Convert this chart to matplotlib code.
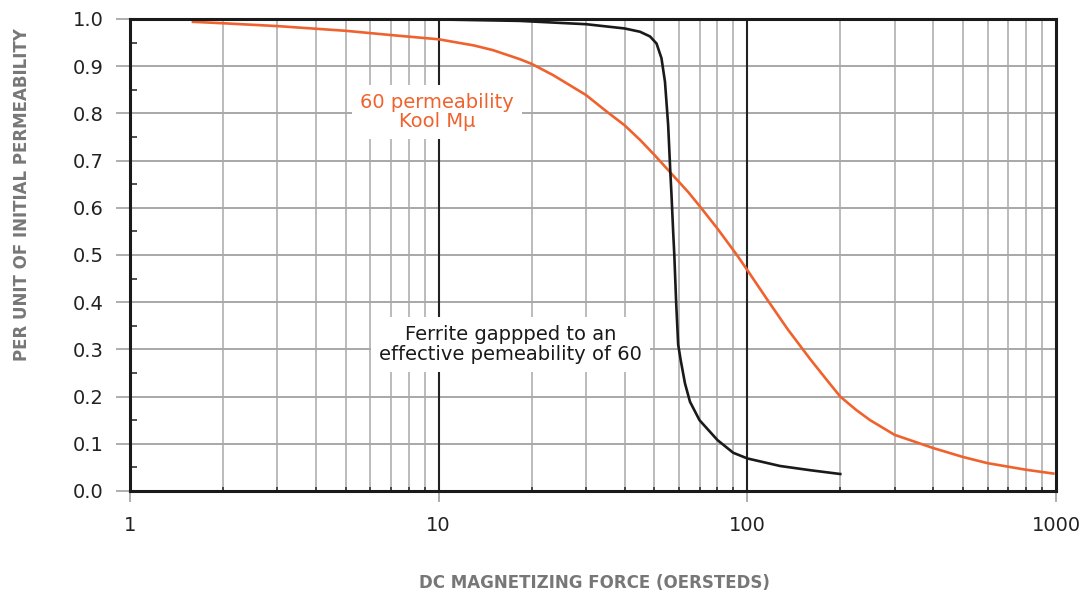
import numpy as np
import matplotlib
matplotlib.use("Agg")
import matplotlib.pyplot as plt
from matplotlib.ticker import FixedLocator, NullFormatter

# data
kool_h = [1.6, 2, 3, 5, 7, 10, 13, 15, 18.3, 20, 23.5, 30, 35, 40, 44.9, 50,
          56.1, 64.4, 70, 80, 92.5, 100, 117, 135, 160, 180, 200, 225, 250,
          300, 400, 500, 600, 800, 980]
kool_mu = [0.994, 0.991, 0.985, 0.975, 0.966, 0.957, 0.944, 0.934, 0.915, 0.905,
           0.881, 0.839, 0.804, 0.775, 0.744, 0.712, 0.676, 0.633, 0.604, 0.556,
           0.50, 0.468, 0.402, 0.343, 0.279, 0.237, 0.20, 0.172, 0.15, 0.119,
           0.091, 0.072, 0.059, 0.045, 0.037]

ferrite_h = [7.0, 10, 18.3, 30, 40, 44.9, 48.4, 50.8, 52.7, 54.1, 55.4, 56.3,
             56.8, 57.5, 58, 58.8, 59.7, 60.8, 62.8, 65.2, 70, 80, 90, 100,
             127.6, 160, 200]
ferrite_mu = [1.0, 0.999, 0.996, 0.989, 0.980, 0.973, 0.963, 0.948, 0.917, 0.867,
              0.775, 0.676, 0.627, 0.55, 0.50, 0.40, 0.31, 0.278, 0.228, 0.189,
              0.150, 0.108, 0.081, 0.069, 0.053, 0.044, 0.036]

x_ticks = [1, 10, 100, 1000]
x_ticklabels = ["1", "10", "100", "1000"]
y_ticks = [0.0, 0.1, 0.2, 0.3, 0.4, 0.5, 0.6, 0.7, 0.8, 0.9, 1.0]

orange = "#F0622D"
grid_gray = "#a8a8a8"
fnt = dict(family="DejaVu Sans")

fig = plt.figure(figsize=(10.86, 5.98), dpi=100)
ax = fig.add_axes([130/1086, 1 - 491/598, 926/1086, 472/598])

ax.set_xscale("log")
ax.set_xlim(1, 1000)
ax.set_ylim(0, 1.0)

# grid: minor decades gray, 10 and 100 black
minor_x = [m * d for d in (1, 10, 100) for m in range(2, 10)]
for v in minor_x:
    ax.axvline(v, color=grid_gray, lw=1.1, zorder=1)
for v in (10, 100):
    ax.axvline(v, color="#222222", lw=1.5, zorder=1.5)
for v in y_ticks[1:-1]:
    ax.axhline(v, color=grid_gray, lw=1.4, zorder=1)

ax.plot(kool_h, kool_mu, color=orange, lw=1.9, zorder=3)
ax.plot(ferrite_h, ferrite_mu, color="#1a1a1a", lw=1.9, zorder=3)

ax.text(9.87, 0.803, "60 permeability\nKool M\u03bc", color=orange, fontsize=14,
        ha="center", va="center", linespacing=1.05, zorder=4,
        bbox=dict(boxstyle="square,pad=0.4", fc="white", ec="none"), **fnt)
ax.text(17.1, 0.31, "Ferrite gappped to an\neffective pemeability of 60",
        color="#1a1a1a", fontsize=14, ha="center", va="center",
        linespacing=1.1, zorder=4,
        bbox=dict(boxstyle="square,pad=0.4", fc="white", ec="none"), **fnt)

# ticks
ax.xaxis.set_major_locator(FixedLocator(x_ticks))
ax.set_xticklabels(x_ticklabels, **fnt)
ax.xaxis.set_minor_locator(FixedLocator(minor_x))
ax.xaxis.set_minor_formatter(NullFormatter())
ax.set_yticks(y_ticks)
ax.set_yticklabels(["%.1f" % v for v in y_ticks], **fnt)
ax.yaxis.set_minor_locator(FixedLocator(np.arange(0.05, 1.0, 0.1)))

ax.tick_params(axis="x", which="major", direction="out", length=8, width=1.3,
               color=grid_gray, labelsize=14, pad=10, labelcolor="#222222")
ax.tick_params(axis="y", which="major", direction="out", length=10, width=1.3,
               color=grid_gray, labelsize=14, pad=9, labelcolor="#222222")
ax.tick_params(which="minor", direction="in", length=3, width=1.2, color="#333333")
ax.tick_params(axis="y", which="minor", length=5)

for s in ax.spines.values():
    s.set_linewidth(2.2)
    s.set_color("#1a1a1a")
    s.set_zorder(5)

fig.text(22/1086, 1 - 195/598, "PER UNIT OF INITIAL PERMEABILITY", rotation=90,
         ha="center", va="center", fontsize=12, fontweight="bold", color="#777777", **fnt)
fig.text(594/1086, 1 - 583/598, "DC MAGNETIZING FORCE (OERSTEDS)",
         ha="center", va="center", fontsize=12, fontweight="bold", color="#777777", **fnt)

fig.savefig("out.png", dpi=100)
